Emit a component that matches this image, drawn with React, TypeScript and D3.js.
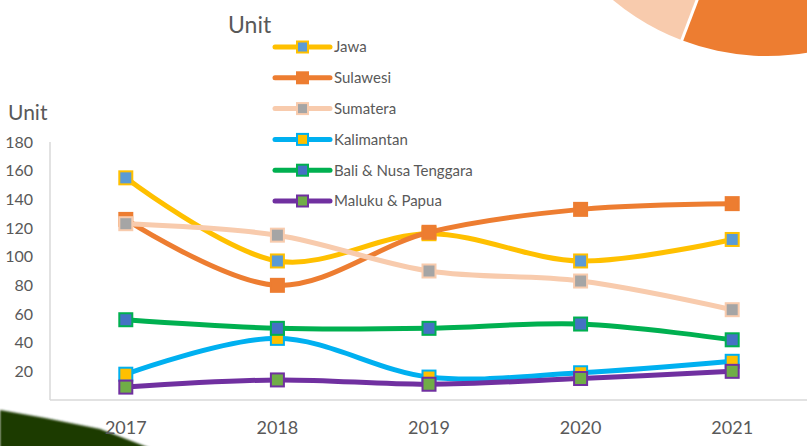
import React from "react";
import * as d3 from "d3";

const years = ["2017", "2018", "2019", "2020", "2021"];
const yTicks = [20, 40, 60, 80, 100, 120, 140, 160, 180];

const seriesNames = ["Jawa", "Sulawesi", "Sumatera", "Kalimantan", "Bali & Nusa Tenggara", "Maluku & Papua"];
const jawa = [155, 97, 116, 97, 112];
const sulawesi = [126, 80, 117, 133, 137];
const sumatera = [123, 115, 90, 83, 63];
const kalimantan = [18, 43, 16, 19, 27];
const bali = [56, 50, 50, 53, 42];
const maluku = [9, 14, 11, 15, 20];
const seriesValues = [jawa, sulawesi, sumatera, kalimantan, bali, maluku];
const lineColors = ["#FFC000", "#ED7D31", "#F8CBAD", "#00B0F0", "#00B050", "#7030A0"];
const markerColors = ["#5B9BD5", "#ED7D31", "#A5A5A5", "#FFC000", "#4472C4", "#70AD47"];

const W = 807, H = 446;
const FONT = "Lato, 'Open Sans', sans-serif";
const TXT = "#595959";

export default function App() {
  const x = d3.scaleBand().domain(years).range([50, 808]);
  const y = d3.scaleLinear().domain([0, 180]).range([400, 142]);
  const cx = (yr: string) => (x(yr) as number) + x.bandwidth() / 2;
  const line = d3
    .line<number>()
    .x((_, i) => cx(years[i]))
    .y((v) => y(v))
    .curve(d3.curveCatmullRom.alpha(0.5));

  const pieC = [767, -184];
  const arc = d3.arc<any>();
  const toRad = (deg: number) => (deg * Math.PI) / 180;
  const orangeArc = arc({ innerRadius: 0, outerRadius: 240, startAngle: toRad(130), endAngle: toRad(200.8) }) as string;
  const peachArc = arc({ innerRadius: 0, outerRadius: 240, startAngle: toRad(200.8), endAngle: toRad(250) }) as string;
  const sepEnd = [pieC[0] + 260 * Math.sin(toRad(200.8)), pieC[1] - 260 * Math.cos(toRad(200.8))];

  const legendX = 275;
  const legendY0 = 47;
  const legendDY = 30.8;

  return (
    <svg width={W} height={H} style={{ position: "absolute", left: 0, top: 0, background: "#fff" }}>
      <defs>
        <filter id="blur1">
          <feGaussianBlur stdDeviation="0.8" />
        </filter>
      </defs>
      {/* decorative pie fragment */}
      <g transform={`translate(${pieC[0]},${pieC[1]})`}>
        <path d={orangeArc} fill="#ED7D31" />
        <path d={peachArc} fill="#F8CBAD" />
      </g>
      <line x1={pieC[0]} y1={pieC[1]} x2={sepEnd[0]} y2={sepEnd[1]} stroke="#fff" strokeWidth={3} />
      {/* decorative dark wedge bottom-left */}
      <path d="M0,450 L0,410 L45,418 L100,429 L155,450 Z" fill="#1C3A06" filter="url(#blur1)" />

      {/* axes */}
      <line x1={50} y1={142} x2={50} y2={400} stroke="#D9D9D9" strokeWidth={1.5} />
      <line x1={50} y1={400} x2={808} y2={400} stroke="#D9D9D9" strokeWidth={1.5} />
      {yTicks.map((t) => (
        <text key={t} x={33} y={y(t)} dy="0.36em" textAnchor="end" fontFamily={FONT} fontSize={16} fill={TXT}>
          {t}
        </text>
      ))}
      {years.map((yr) => (
        <text key={yr} x={cx(yr)} y={428} dy="0.36em" textAnchor="middle" fontFamily={FONT} fontSize={18} fill={TXT}>
          {yr}
        </text>
      ))}
      <text x={8} y={112} dy="0.36em" fontFamily={FONT} fontSize={21} fill={TXT}>Unit</text>
      <text x={228} y={25} dy="0.36em" fontFamily={FONT} fontSize={23} fill={TXT}>Unit</text>

      {/* series */}
      {seriesValues.map((vals, si) => (
        <g key={seriesNames[si]}>
          <path d={line(vals) as string} fill="none" stroke={lineColors[si]} strokeWidth={5} strokeLinecap="round" />
          {vals.map((v, i) => (
            <rect
              key={i}
              x={cx(years[i]) - 6.5}
              y={y(v) - 6.5}
              width={13}
              height={13}
              fill={markerColors[si]}
              stroke={lineColors[si]}
              strokeWidth={2}
            />
          ))}
        </g>
      ))}

      {/* legend */}
      {seriesNames.map((name, si) => {
        const ly = legendY0 + si * legendDY;
        return (
          <g key={name}>
            <line x1={legendX} y1={ly} x2={legendX + 55} y2={ly} stroke={lineColors[si]} strokeWidth={5} strokeLinecap="round" />
            <rect x={legendX + 27.5 - 5.5} y={ly - 5.5} width={11} height={11} fill={markerColors[si]} stroke={lineColors[si]} strokeWidth={2} />
            <text x={legendX + 59} y={ly} dy="0.36em" fontFamily={FONT} fontSize={15} fill={TXT}>
              {name}
            </text>
          </g>
        );
      })}
    </svg>
  );
}
